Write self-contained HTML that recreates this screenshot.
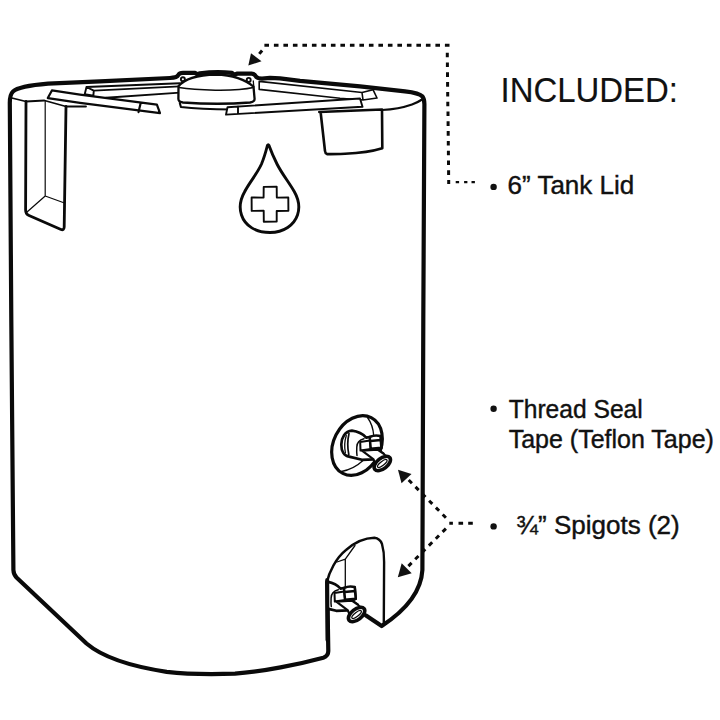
<!DOCTYPE html>
<html><head><meta charset="utf-8">
<style>
html,body{margin:0;padding:0;background:#fff;width:720px;height:720px;overflow:hidden}
svg{display:block}
text{font-family:"Liberation Sans",sans-serif;fill:#111;stroke:#111;stroke-width:0.4px}
</style></head>
<body>
<svg width="720" height="720" viewBox="0 0 720 720">
<rect width="720" height="720" fill="#fff"/>
<g fill="none" stroke="#0a0a0a" stroke-linecap="round" stroke-linejoin="round">

<!-- main tank silhouette -->
<path stroke-width="4.2" d="M 366,615.5 L 381.7,626 C 400,614 421,596 422.4,570 L 423.3,320 L 424.4,104 Q 424.4,99 422.5,96.5 C 420,93.8 412,92.2 405,91.4 L 360,86.4 L 300,80.9 L 280,78.4 L 270,77.9 L 262,78.6 Q 257,78.4 255.8,76.2 Q 254.5,73.8 251.7,73.7 L 237.5,73.5 L 234.5,74.8 L 232,72.8 Q 216,71.1 200,73.3 L 197.5,74.3 L 195,72.9 L 183,72.9 Q 179.5,72.9 178.3,75 Q 177,77.6 170,78 L 100,81.3 L 48,83.7 C 30,85.2 18,87 13,91.5 Q 9.8,94.5 9.8,103 L 11.3,320 L 13.4,570 Q 13.6,574.5 16.5,577.5 L 86.5,643.5 C 100,655 125,665.5 166.7,671.8 C 190,674.5 215,674.3 235,673.6 C 262,672 300,664 323.3,657.7 Q 328.3,656 328.3,651 L 327.2,582"/>

<!-- rim inner lines -->
<path stroke-width="1.8" d="M 11.8,98 L 26,101.5 L 44.5,100.5 L 66,106.5 L 86,106.5"/>
<path stroke-width="2.2" d="M 382,110 C 392,109.5 402,108 412,104.5 Q 418,102.3 422,99.5"/>

<!-- left bracket -->
<path stroke-width="2.8" d="M 26,101.5 L 25.6,210 Q 25.6,214 29,215.5 L 61,229.5 Q 64,230.5 64.2,227 L 66,106.5"/>
<path stroke-width="1.2" d="M 45.2,100.6 L 45.2,196 L 25.9,213 M 45.2,196 L 64.5,203"/>

<!-- far-left bar -->
<path stroke-width="1.9" d="M 86.5,87 L 180,83.2 M 93.75,90.6 L 180,86.4 M 106,97.8 L 180,92.6 M 86.5,87 L 84.7,94.3 L 93.4,95.6 L 93.75,90.6 Z"/>
<!-- near-left bar -->
<path fill="#fff" stroke-width="2.2" d="M 51.9,90.4 L 80,94.6 L 156.9,104.6 L 160,113.2 L 80,102.9 L 47.8,98.1 Z M 140.5,103.8 L 138.5,112.1"/>
<!-- far-right bar -->
<path stroke-width="1.6" d="M 259.2,81.4 L 362,92.5 L 373,89.7 L 377,98 L 363,100 L 362,92.5 M 259.2,89.4 L 340,98.3 L 363,100 M 259.2,81.4 L 259.2,89.4"/>

<!-- lid -->
<path fill="#fff" stroke-width="2.3" d="M 178.5,86.3 C 185,78 198,75 216,74.5 C 232,74.5 246,80 253.5,86.6 L 254.6,99 Q 254.6,101.8 250,102.5 Q 218,105 183,102.5 Q 178.5,102 178.4,99 Z"/>
<path stroke-width="1.5" d="M 179,87.6 C 195,90.3 235,91.7 253.4,87.6"/>
<path stroke-width="2.1" d="M 179.8,103 L 180.9,107 Q 200,109.3 232,109.5"/>
<path stroke-width="1.3" d="M 253.3,81 L 253.8,87"/>
<circle cx="182.9" cy="79.3" r="2" stroke-width="1.9"/>
<circle cx="248.7" cy="79.9" r="2" stroke-width="1.9"/>

<!-- near-right bar -->
<path fill="#fff" stroke-width="1.9" d="M 227.5,107.3 L 360,98.5 L 362.5,106.8 L 226,114.6 Z M 238,106.5 L 238,113.3"/>

<!-- right hanging box -->
<path fill="#fff" stroke-width="2.6" d="M 319.3,112 L 382,109.5 L 382.3,148.3 Q 368,152.8 345,153.8 Q 332,154.3 327,154.1 Q 325.2,153.5 325,151 L 320.6,112"/>

<!-- drop -->
<path stroke-width="2.9" d="M 267.4,145.5 C 266,151 264,158 261.5,164 C 257,174 249,183 244.5,192 C 240,200 239.5,209 241.5,215 C 245,226 256,232.5 270,232.5 C 284,232.5 294,225 297.5,215 C 299.5,209 299,200 294.5,192 C 289.5,183 282,174 277,164 C 274,158 271,151 269,145.5 Q 268.2,144 267.4,145.5 Z"/>
<path stroke-width="1.9" d="M 263.7,186.9 L 276.7,186.7 L 276.8,197.6 L 288.3,197.5 L 288.4,210.8 L 276.7,211 L 276.7,221.6 L 263.8,221.7 L 263.7,210.8 L 251.7,210.9 L 251.6,197.5 L 263.6,197.6 Z"/>

<!-- upper spigot -->
<ellipse cx="357" cy="445.5" rx="23.5" ry="31.3" transform="rotate(27 357 445.5)" stroke-width="3.2"/>
<path stroke-width="1.3" d="M 367.5,417.5 Q 373,425 373.8,436 M 341.5,471.5 Q 354,469 363,460.5"/>
<g id="sp">
<path fill="#fff" stroke-width="2.7" d="M 351.9,430.6 C 345,431 341.3,438 341.3,444.4 C 341.3,451 344,456 349.1,456.6 L 361.9,459.8 L 373.6,459.4 L 383.3,453.6 L 377.5,449.7 L 381.4,447.8 L 380.4,436.1 L 369.7,437 L 366.2,437.6 C 363,434 359,431.5 351.9,430.6 Z"/>
<path stroke-width="1.3" d="M 346.3,435.5 Q 343.6,444 345.4,452.8"/>
<path stroke-width="1.7" d="M 349,433.5 Q 346.6,444 348.8,454.5"/>
<path stroke-width="1.5" d="M 364,438.8 Q 357,440.5 356.8,447 Q 356.5,452 357,455.5"/>
<path fill="#fff" stroke-width="2" d="M 360.2,442 L 370,440.6 L 370.8,449 L 360.5,450.5 Z"/>
<path fill="#fff" stroke-width="2.5" d="M 369.7,437 Q 375,434.5 380.4,436.1 L 381.4,447.8 L 370.7,448.7 Z M 370.5,441 L 380.8,440"/>
<path fill="#fff" stroke-width="2.1" d="M 362,450.7 L 377.5,449.7 L 383.3,453.6 L 388,458 L 377,469 L 373.6,459.4 Z"/>
<ellipse cx="382.3" cy="463.5" rx="9.5" ry="5.3" transform="rotate(-38 382.3 463.5)" fill="#fff" stroke-width="3.6"/>
<ellipse cx="382.3" cy="463.5" rx="5.8" ry="2" transform="rotate(-38 382.3 463.5)" stroke-width="1.3"/>
</g>

<!-- lower notch -->
<path stroke-width="2.4" d="M 326.8,582.5 C 329,572 336,558 346,550 C 354,543 364,538 374.4,537.8 Q 380,538.5 382,544 Q 384.3,552 384.1,562 L 383.8,624"/>
<path stroke-width="1.3" d="M 355,545.5 L 345.3,559.2 L 337,562 M 345.3,559.2 L 345.3,588"/>
<!-- lower spigot -->
<clipPath id="cl"><rect x="328" y="560" width="80" height="80"/></clipPath>
<g clip-path="url(#cl)"><use href="#sp" transform="translate(-25.7,151)"/></g>
<path stroke-width="4" d="M 327.2,580 L 327.5,640"/>

<!-- dotted lines -->
<path stroke-width="3" stroke-linecap="butt" d="M264.4,45.2L269.0,45.2M273.9,45.2L278.5,45.2M283.4,45.2L288.0,45.2M292.9,45.2L297.5,45.2M302.4,45.2L307.0,45.2M311.9,45.2L316.5,45.2M321.4,45.2L326.0,45.2M330.9,45.2L335.5,45.2M340.4,45.2L345.0,45.2M349.9,45.2L354.5,45.2M359.4,45.2L364.0,45.2M368.9,45.2L373.5,45.2M378.4,45.2L383.0,45.2M387.9,45.2L392.5,45.2M397.4,45.2L402.0,45.2M406.9,45.2L411.5,45.2M416.4,45.2L421.0,45.2M425.9,45.2L430.5,45.2M435.4,45.2L440.0,45.2M444.9,45.2L449.5,45.2M447.3,52.7L447.3,57.3M447.4,62.5L447.4,67.1M447.5,72.3L447.5,76.9M447.6,82.1L447.6,86.7M447.7,91.9L447.7,96.5M447.8,101.7L447.8,106.3M448.0,111.5L448.0,116.1M448.1,121.3L448.1,125.9M448.2,131.1L448.2,135.7M448.3,140.9L448.3,145.5M448.4,150.7L448.4,155.3M448.5,160.5L448.5,165.1M448.6,170.3L448.6,174.9M448.7,180.0L448.7,184.0M262.1,50.5L259.3,53.9M449.3,523.2L452.9,523.2M458.5,523.2L463.1,523.2M468.2,523.2L472.8,523.2M445.9,517.7L442.7,514.5M445.9,528.6L442.6,531.9M439.1,510.8L435.9,507.6M439.0,535.5L435.8,538.7M432.3,503.9L429.1,500.7M432.2,542.3L428.9,545.6M425.5,497.0L422.3,493.8M425.3,549.2L422.1,552.4M418.7,490.1L415.5,486.9M418.5,556.0L415.2,559.3M411.9,483.2L408.7,480.0M411.6,562.9L408.4,566.1"/>
<path stroke-width="2.3" stroke-linecap="butt" d="M455.7,182.2L459.1,182.2M464.1,182.2L467.4,182.2M471.5,182.2L474.9,182.2"/>
</g>
<g fill="#111" stroke="none">
<polygon points="248.3,65.6 251,53.2 261.5,61.2"/>
<polygon points="398,469.7 411.5,473.9 401.5,483.3"/>
<polygon points="397.8,577.2 411.7,573.3 401.7,563.3"/>
<circle cx="493.6" cy="186.9" r="3.2"/>
<circle cx="493.6" cy="408.7" r="3.2"/>
<circle cx="493.6" cy="526.4" r="3.2"/>
</g>
<text x="500.6" y="102" font-size="35" textLength="177.4" lengthAdjust="spacingAndGlyphs" style="stroke-width:0.15px">INCLUDED:</text>
<text x="507.6" y="193.8" font-size="25" textLength="126.6" lengthAdjust="spacingAndGlyphs">6” Tank Lid</text>
<text x="508.7" y="417.7" font-size="25" textLength="134.1" lengthAdjust="spacingAndGlyphs">Thread Seal</text>
<text x="508.7" y="447.5" font-size="25" textLength="205.2" lengthAdjust="spacingAndGlyphs">Tape (Teflon Tape)</text>
<text x="516.3" y="534.2" font-size="25" textLength="163.4" lengthAdjust="spacingAndGlyphs">¾” Spigots (2)</text>
</svg>
</body></html>
